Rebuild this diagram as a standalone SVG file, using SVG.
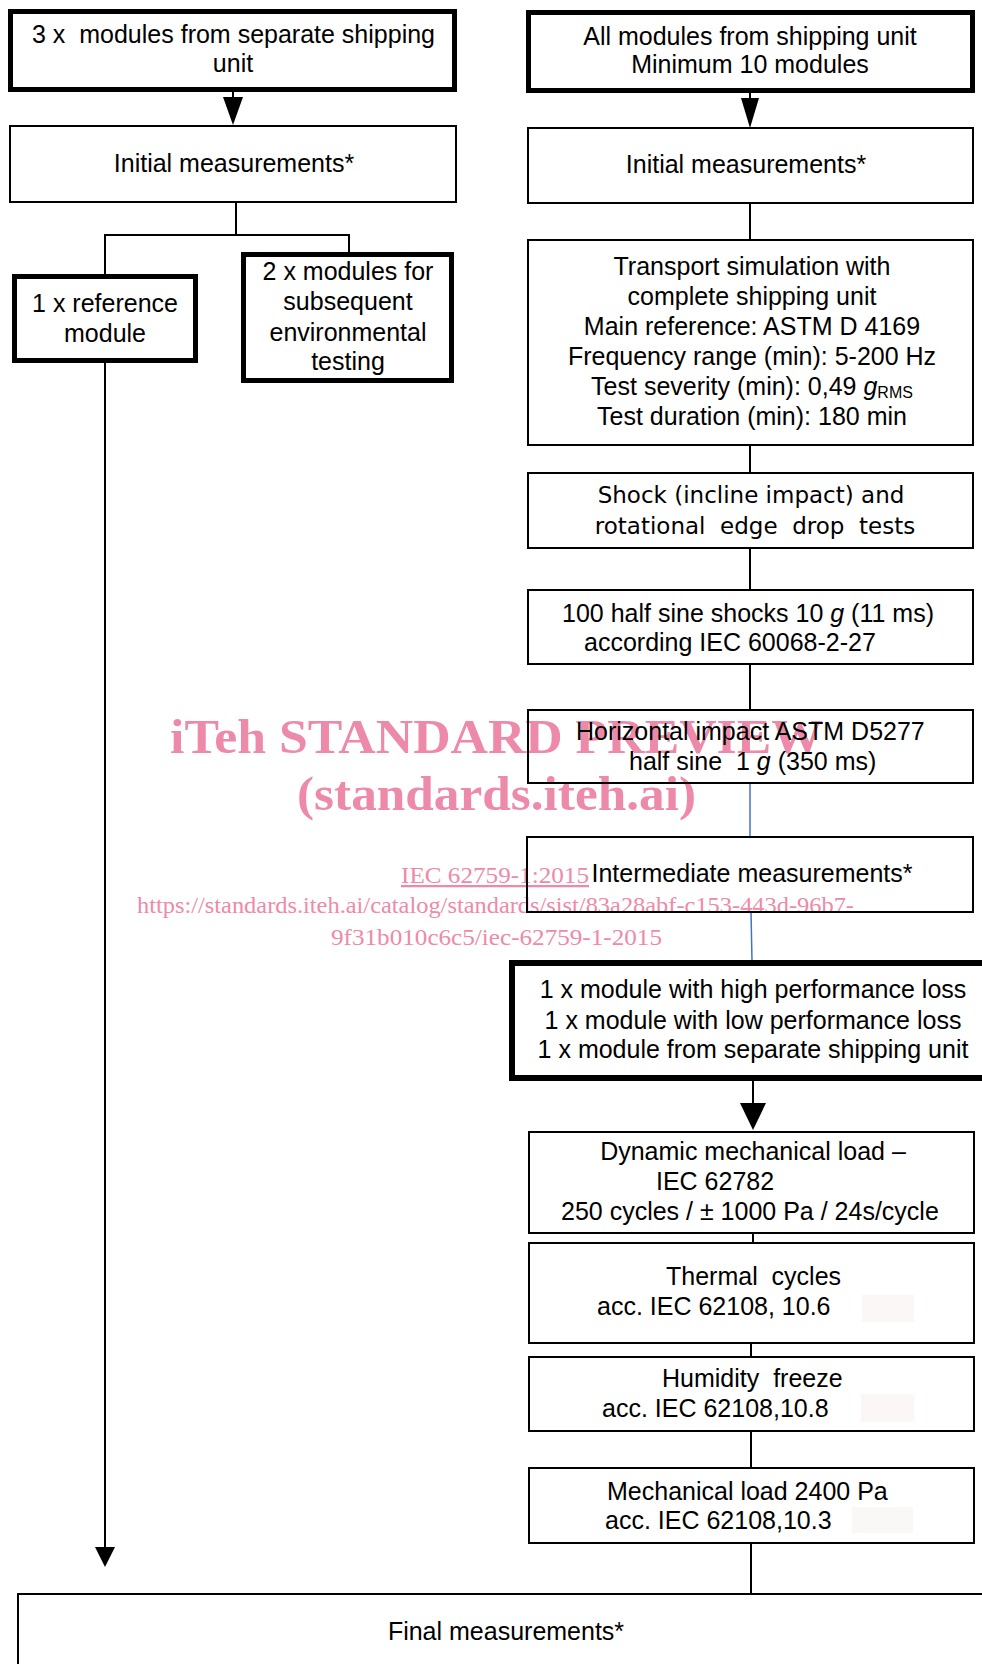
<svg xmlns="http://www.w3.org/2000/svg" width="982" height="1664" viewBox="0 0 982 1664">
<style>
  .box { fill: none; stroke: #000; stroke-width: 2; }
  .thick { fill: none; stroke: #000; stroke-width: 5; }
  .t { font-family: "Liberation Sans", Arial, sans-serif; font-size: 25px; fill: #000; }
  .c { text-anchor: middle; }
  .dv { font-family: "DejaVu Sans", Verdana, sans-serif; font-size: 23px; fill: #000; }
  .it { font-style: italic; }
  .sub { font-size: 16px; }
  .ln { stroke: #000; stroke-width: 2; fill: none; }
  .blue { stroke: #4472c4; stroke-width: 1.5; fill: none; }
  .ah { fill: #000; stroke: none; }
  .wm { font-family: "Liberation Serif", "Times New Roman", serif; fill: #ee8aa9; }
  .wmb { font-weight: bold; font-size: 48px; }
  .wms { font-size: 23px; }
  .faint { fill: #fbf7f7; stroke: none; }
</style>

<g id="watermark">
  <text class="wm wmb" x="170" y="753" textLength="653" lengthAdjust="spacingAndGlyphs">iTeh STANDARD PREVIEW</text>
  <text class="wm wmb" x="297" y="810" textLength="399" lengthAdjust="spacingAndGlyphs">(standards.iteh.ai)</text>
  <text class="wm wms" x="401" y="883" textLength="188" lengthAdjust="spacingAndGlyphs" text-decoration="underline">IEC 62759-1:2015</text>
  <text class="wm wms" x="137" y="913" textLength="717" lengthAdjust="spacingAndGlyphs">https://standards.iteh.ai/catalog/standards/sist/83a28abf-c153-443d-96b7-</text>
  <text class="wm wms" x="331" y="945" textLength="331" lengthAdjust="spacingAndGlyphs">9f31b010c6c5/iec-62759-1-2015</text>
</g>

<g id="connectors">
  <line class="ln" x1="233" y1="91" x2="233" y2="99"/>
  <polygon class="ah" points="223,97 243,97 233,125"/>
  <polyline class="ln" points="236,202 236,235"/>
  <polyline class="ln" points="105,274 105,235 349,235 349,252"/>
  <line class="ln" x1="105" y1="363" x2="105" y2="1549"/>
  <polygon class="ah" points="95,1547 115,1547 105,1567"/>
  <line class="ln" x1="750" y1="93" x2="750" y2="100"/>
  <polygon class="ah" points="741,98 759,98 750,128"/>
  <line class="ln" x1="750" y1="203" x2="750" y2="240"/>
  <line class="ln" x1="750" y1="445" x2="750" y2="473"/>
  <line class="ln" x1="750" y1="548" x2="750" y2="590"/>
  <line class="ln" x1="750" y1="664" x2="750" y2="710"/>
  <line class="blue" x1="750" y1="783" x2="750" y2="837"/>
  <line class="blue" x1="751" y1="912" x2="752" y2="961"/>
  <line class="ln" x1="753" y1="1081" x2="753" y2="1105"/>
  <polygon class="ah" points="740,1103 766,1103 753,1130"/>
  <line class="ln" x1="753" y1="1233" x2="753" y2="1243"/>
  <line class="ln" x1="751" y1="1343" x2="751" y2="1357"/>
  <line class="ln" x1="751" y1="1431" x2="751" y2="1468"/>
  <line class="ln" x1="751" y1="1543" x2="751" y2="1594"/>
</g>

<g id="n-left-start">
  <rect class="thick" x="10.5" y="11.5" width="444" height="78"/>
  <text class="t" x="32" y="43" xml:space="preserve">3 x  modules from separate shipping</text>
  <text class="t c" x="233" y="72">unit</text>
</g>

<g id="n-left-initial">
  <rect class="box" x="10" y="126" width="446" height="76"/>
  <text class="t c" x="234" y="172">Initial measurements*</text>
</g>

<g id="n-reference">
  <rect class="thick" x="14.5" y="276.5" width="181" height="84"/>
  <text class="t c" x="105" y="312">1 x reference</text>
  <text class="t c" x="105" y="342">module</text>
</g>

<g id="n-two-modules">
  <rect class="thick" x="243.5" y="254.5" width="208" height="126"/>
  <text class="t c" x="348" y="280">2 x modules for</text>
  <text class="t c" x="348" y="310">subsequent</text>
  <text class="t c" x="348" y="341">environmental</text>
  <text class="t c" x="348" y="370">testing</text>
</g>

<g id="n-right-start">
  <rect class="thick" x="528.5" y="12.5" width="444" height="78"/>
  <text class="t c" x="750" y="45">All modules from shipping unit</text>
  <text class="t c" x="750" y="73">Minimum 10 modules</text>
</g>

<g id="n-right-initial">
  <rect class="box" x="528" y="128" width="445" height="75"/>
  <text class="t c" x="746" y="173">Initial measurements*</text>
</g>

<g id="n-transport">
  <rect class="box" x="528" y="240" width="445" height="205"/>
  <text class="t c" x="752" y="275">Transport simulation with</text>
  <text class="t c" x="752" y="305">complete shipping unit</text>
  <text class="t c" x="752" y="335">Main reference: ASTM D 4169</text>
  <text class="t c" x="752" y="365">Frequency range (min): 5-200 Hz</text>
  <text class="t c" x="752" y="395">Test severity (min): 0,49 <tspan class="it">g</tspan><tspan class="sub" dy="3">RMS</tspan></text>
  <text class="t c" x="752" y="425">Test duration (min): 180 min</text>
</g>

<g id="n-shock">
  <rect class="box" x="528" y="473" width="445" height="75"/>
  <text class="dv c" x="751" y="503">Shock (incline impact) and</text>
  <text class="dv c" x="755" y="534" xml:space="preserve">rotational  edge  drop  tests</text>
</g>

<g id="n-halfsine">
  <rect class="box" x="528" y="590" width="445" height="74"/>
  <text class="t c" x="748" y="622">100 half sine shocks 10 <tspan class="it">g</tspan> (11 ms)</text>
  <text class="t" x="584" y="651">according IEC 60068-2-27</text>
</g>

<g id="n-horizontal">
  <rect class="box" x="528" y="710" width="445" height="73"/>
  <text class="t" x="576" y="740">Horizontal impact ASTM D5277</text>
  <text class="t" x="629" y="770" xml:space="preserve">half sine  1 <tspan class="it">g</tspan> (350 ms)</text>
</g>

<g id="n-intermediate">
  <rect class="box" x="527" y="837" width="446" height="75"/>
  <text class="t c" x="752" y="882">Intermediate measurements*</text>
</g>

<g id="n-selection">
  <rect class="thick" x="512" y="963" width="480" height="115" style="stroke-width:6"/>
  <text class="t c" x="753" y="998">1 x module with high performance loss</text>
  <text class="t c" x="753" y="1029">1 x module with low performance loss</text>
  <text class="t c" x="753" y="1058">1 x module from separate shipping unit</text>
</g>

<g id="n-dynamic">
  <rect class="box" x="529" y="1132" width="445" height="101"/>
  <text class="t c" x="753" y="1160">Dynamic mechanical load –</text>
  <text class="t" x="656" y="1190">IEC 62782</text>
  <text class="t" x="561" y="1220">250 cycles / ± 1000 Pa / 24s/cycle</text>
</g>

<g id="n-thermal">
  <rect class="box" x="529" y="1243" width="445" height="100"/>
  <rect class="faint" x="862" y="1295" width="52" height="27"/>
  <text class="t" x="666" y="1285" xml:space="preserve">Thermal  cycles</text>
  <text class="t" x="597" y="1315">acc. IEC 62108, 10.6</text>
</g>

<g id="n-humidity">
  <rect class="box" x="529" y="1357" width="445" height="74"/>
  <rect class="faint" x="861" y="1394" width="53" height="28"/>
  <text class="t" x="662" y="1387" xml:space="preserve">Humidity  freeze</text>
  <text class="t" x="602" y="1417">acc. IEC 62108,10.8</text>
</g>

<g id="n-mechanical">
  <rect class="box" x="529" y="1468" width="445" height="75"/>
  <rect class="faint" x="852" y="1507" width="61" height="26"/>
  <text class="t" x="607" y="1500">Mechanical load 2400 Pa</text>
  <text class="t" x="605" y="1529">acc. IEC 62108,10.3</text>
</g>

<g id="n-final">
  <rect class="box" x="18" y="1594" width="980" height="100"/>
  <text class="t c" x="506" y="1640">Final measurements*</text>
</g>
</svg>
